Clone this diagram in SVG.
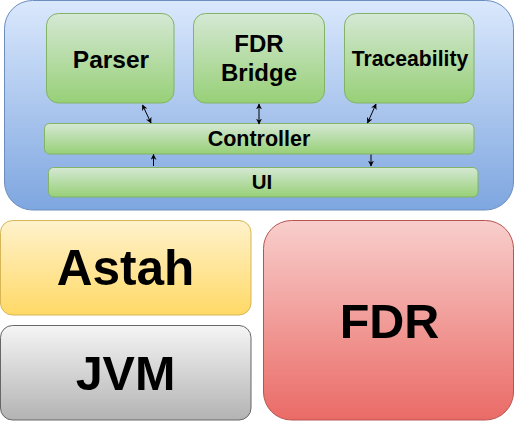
<svg xmlns="http://www.w3.org/2000/svg" width="515" height="422" viewBox="0 0 515 422">
<defs>
<linearGradient id="gBlue" x1="0" y1="0" x2="0" y2="1"><stop offset="0" stop-color="#dae8fc"/><stop offset="1" stop-color="#7ea6e0"/></linearGradient>
<linearGradient id="gGreen" x1="0" y1="0" x2="0" y2="1"><stop offset="0" stop-color="#d5e8d4"/><stop offset="1" stop-color="#97d077"/></linearGradient>
<linearGradient id="gYellow" x1="0" y1="0" x2="0" y2="1"><stop offset="0" stop-color="#fff2cc"/><stop offset="1" stop-color="#ffd966"/></linearGradient>
<linearGradient id="gGray" x1="0" y1="0" x2="0" y2="1"><stop offset="0" stop-color="#f5f5f5"/><stop offset="1" stop-color="#b3b3b3"/></linearGradient>
<linearGradient id="gRed" x1="0" y1="0" x2="0" y2="1"><stop offset="0" stop-color="#f8cecc"/><stop offset="1" stop-color="#ea6b66"/></linearGradient>
<marker id="ah" viewBox="0 0 10 10" refX="9" refY="5" markerWidth="6" markerHeight="6" markerUnits="userSpaceOnUse" orient="auto-start-reverse"><path d="M0,0 L10,5 L0,10 L3,5 Z" fill="#000"/></marker>
<style>
text{font-family:"Liberation Sans",Arial,sans-serif;font-weight:bold;fill:#000;text-anchor:middle}
.green{fill:url(#gGreen);stroke:#82b366;stroke-width:1}
.conn{stroke:#000;stroke-width:1;fill:none}
</style>
</defs>
<g id="container"><rect x="4.5" y="0.5" width="509" height="209.5" rx="28" ry="28" fill="url(#gBlue)" stroke="#6c8ebf"/></g>
<g id="parser"><rect class="green" x="46.5" y="13.5" width="127.5" height="89.5" rx="12"/><text x="111" y="67.5" font-size="24.5">Parser</text></g>
<g id="fdrbridge"><rect class="green" x="193.5" y="13.5" width="131" height="89.5" rx="12"/><text x="259" y="52" font-size="24">FDR</text><text x="259" y="81" font-size="24">Bridge</text></g>
<g id="traceability"><rect class="green" x="344.5" y="13.5" width="129.5" height="89.5" rx="12"/><text x="410" y="66" font-size="21.2">Traceability</text></g>
<g id="controller"><rect class="green" x="44.5" y="123.5" width="429.5" height="30.5" rx="5"/><text x="259" y="146" font-size="21.5">Controller</text></g>
<g id="ui"><rect class="green" x="48.5" y="167.5" width="429.5" height="29.5" rx="5"/><text x="262" y="189" font-size="20.5">UI</text></g>
<g id="astah"><rect x="0.5" y="220.5" width="250.5" height="94.5" rx="12" fill="url(#gYellow)" stroke="#d6b656"/><text x="125.5" y="285" font-size="49.5">Astah</text></g>
<g id="jvm"><rect x="0.5" y="325.5" width="250.5" height="94.5" rx="12" fill="url(#gGray)" stroke="#666666"/><text x="125.5" y="390" font-size="48.5">JVM</text></g>
<g id="fdr"><rect x="263.5" y="220.5" width="250" height="199.5" rx="28" fill="url(#gRed)" stroke="#b85450"/><text x="389.5" y="338" font-size="48.5">FDR</text></g>
<g id="connectors">
<line class="conn" x1="142.5" y1="105" x2="151" y2="123" marker-start="url(#ah)" marker-end="url(#ah)"/>
<line class="conn" x1="259" y1="104" x2="259" y2="124" marker-start="url(#ah)" marker-end="url(#ah)"/>
<line class="conn" x1="376" y1="104" x2="367.5" y2="123" marker-start="url(#ah)" marker-end="url(#ah)"/>
<line class="conn" x1="153.5" y1="166" x2="153.5" y2="154.5" marker-end="url(#ah)"/>
<line class="conn" x1="371" y1="154.5" x2="371" y2="166" marker-end="url(#ah)"/>
</g>
</svg>
